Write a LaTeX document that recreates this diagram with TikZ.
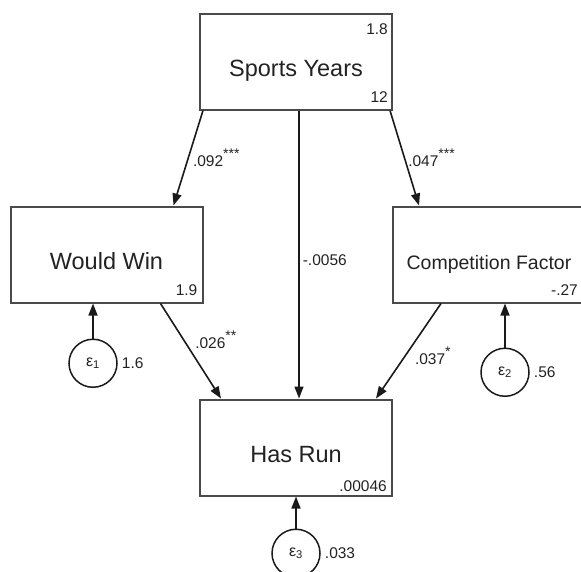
\documentclass[tikz,border=0pt]{standalone}
\usepackage{fontspec}
\setmainfont{Liberation Sans}
\usetikzlibrary{positioning, arrows.meta, calc}
\definecolor{semline}{HTML}{1A1A1A}
\definecolor{semframe}{HTML}{4A4A4A}
\definecolor{semtext}{HTML}{222222}
\newcommand{\sigstars}[1]{\raisebox{8pt}{\fontsize{14}{14}\selectfont #1}}

\begin{document}
\begin{tikzpicture}[x=1pt, y=-1pt,
          var/.style={draw=semframe, line width=2pt, minimum width=192pt, minimum height=96pt, inner sep=0pt, text=semtext, font=\fontsize{23.5}{26}\selectfont, text height=29pt, text depth=0pt},
          err/.style={circle, draw=semline, line width=1.5pt, minimum size=48pt, inner sep=0pt, text=semtext, font=\fontsize{16}{18}\selectfont},
          est/.style={text=semtext, font=\fontsize{15.5}{17}\selectfont, inner sep=1pt},
          link/.style={semline, line width=1.6pt, -{Triangle[length=12pt, width=9pt]}}]
        \useasboundingbox (0,0) rectangle (581,571);
        \clip (0,0) rectangle (581,571);
        \node[var] (sy) at (296,61.5) {Sports Years};
        \node[var] (ww) at (106.5,254.5) {Would Win};
        \node[var, font=\fontsize{19.5}{22}\selectfont] (cf) at (489,254.5) {Competition Factor};
        \node[var] (hr) at (296,447.5) {Has Run};
        \node[err, below=35pt of ww, xshift=-13.5pt] (e1) {ε\textsubscript{1}};
        \node[err, below=44pt of cf, xshift=16pt] (e2) {ε\textsubscript{2}};
        \node[err, below=32pt of hr] (e3) {ε\textsubscript{3}};
        \node[est, anchor=north east] (syv) at ([xshift=-4pt, yshift=-10pt]sy.north east) {1.8};
        \node[est, anchor=south east] (sym) at ([xshift=-4pt, yshift=7pt]sy.south east) {12};
        \node[est, anchor=south east] (wwc) at ([xshift=-5pt, yshift=7pt]ww.south east) {1.9};
        \node[est, anchor=south east] (cfc) at ([xshift=-7pt, yshift=7pt]cf.south east) {-.27};
        \node[est, anchor=south east] (hrc) at ([xshift=-5pt, yshift=3.5pt]hr.south east) {.00046};
        \draw[link] ([xshift=4pt]sy.south west) -- node[est, pos=.5, right=3pt] (b1) {.092\sigstars{***}} ([xshift=-30pt]ww.north east);
        \draw[link] ([xshift=-3pt]sy.south east) -- node[est, pos=.5, right=2pt] (b2) {.047\sigstars{***}} ([xshift=27pt]cf.north west);
        \draw[link] ([xshift=3pt]sy.south) -- node[est, pos=.52, right=2pt] (b3) {-.0056} ([xshift=3pt]hr.north);
        \draw[link] ([xshift=-43pt]ww.south east) -- node[est, pos=.38, right=10pt] (b4) {.026\sigstars{**}} ([xshift=22pt]hr.north west);
        \draw[link] ([xshift=49pt]cf.south west) -- node[est, pos=.55, right=8pt] (b5) {.037\sigstars{*}} ([xshift=-17pt]hr.north east);
        \draw[link] (e1.north) -- (e1.north |- ww.south);
        \draw[link] (e2.north) -- (e2.north |- cf.south);
        \draw[link] (e3.north) -- (e3.north |- hr.south);
        \node[est, right=3pt of e1] (e1v) {1.6};
        \node[est, right=3pt of e2] (e2v) {.56};
        \node[est, right=3pt of e3] (e3v) {.033};
      \end{tikzpicture}
\end{document}
